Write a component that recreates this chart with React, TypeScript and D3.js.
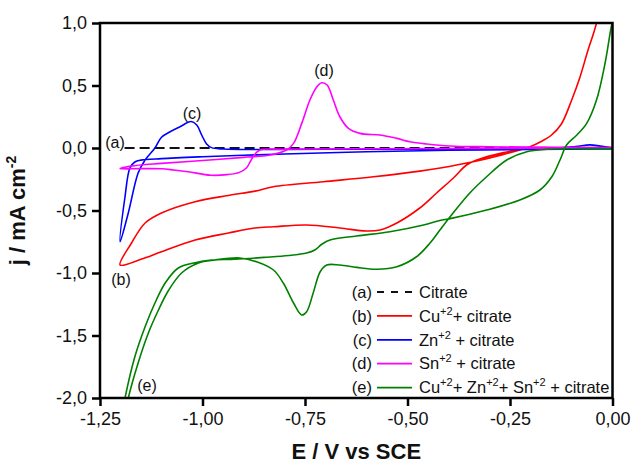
import React, { useRef, useEffect } from "react";
import * as d3 from "d3";

// cyclic voltammograms, [E (V vs SCE), j (mA cm-2)] in scan order
const citrate: [number, number][] = [
  [-1.19, 0], [0, 0],
];

const cuCitrate: [number, number][] = [
  [0, 0.003], [-0.1, 0.0], [-0.2, 0.0], [-0.266, -0.037], [-0.331, -0.096],
  [-0.356, -0.136], [-0.388, -0.24], [-0.429, -0.36], [-0.47, -0.48],
  [-0.526, -0.6], [-0.567, -0.656], [-0.6, -0.664], [-0.665, -0.64],
  [-0.746, -0.616], [-0.827, -0.63], [-0.872, -0.64], [-0.937, -0.68],
  [-1.018, -0.736], [-1.1, -0.83], [-1.15, -0.89], [-1.201, -0.936],
  [-1.173, -0.76], [-1.14, -0.6], [-1.1, -0.52], [-1.018, -0.43],
  [-0.937, -0.38], [-0.872, -0.345], [-0.827, -0.31], [-0.705, -0.27],
  [-0.583, -0.23], [-0.47, -0.185], [-0.42, -0.16], [-0.34, -0.11],
  [-0.27, -0.055], [-0.226, -0.016], [-0.2, 0.012], [-0.175, 0.05],
  [-0.15, 0.1], [-0.125, 0.19], [-0.1, 0.38], [-0.08, 0.56],
  [-0.06, 0.78], [-0.045, 0.93], [-0.034, 1.06],
];

const znCitrate: [number, number][] = [
  [0, -0.008], [-0.2, -0.012], [-0.4, -0.018], [-0.6, -0.03], [-0.8, -0.048],
  [-0.9, -0.058], [-1.0, -0.07], [-1.1, -0.085], [-1.15, -0.097],
  [-1.165, -0.112], [-1.177, -0.16], [-1.189, -0.39], [-1.201, -0.75],
  [-1.181, -0.52], [-1.157, -0.2], [-1.14, -0.096], [-1.116, 0.0],
  [-1.1, 0.086], [-1.079, 0.13], [-1.055, 0.17], [-1.028, 0.212],
  [-1.014, 0.184], [-1.002, 0.104], [-0.99, 0.032], [-0.978, 0.003],
  [-0.95, -0.008], [-0.7, -0.01], [-0.4, -0.008], [-0.15, -0.003],
  [-0.09, 0.012], [-0.055, 0.025], [-0.03, 0.015], [0, 0.0],
];

const snCitrate: [number, number][] = [
  [0, 0.003], [-0.3, -0.003], [-0.6, -0.006], [-0.8, -0.01], [-0.86, -0.016],
  [-0.872, -0.05], [-0.882, -0.1], [-0.893, -0.16], [-0.91, -0.195],
  [-0.94, -0.213], [-0.98, -0.218], [-1.035, -0.19], [-1.07, -0.176],
  [-1.1, -0.166], [-1.15, -0.165], [-1.201, -0.165],
  [-1.175, -0.145], [-1.1, -0.123], [-1.0, -0.1], [-0.9, -0.075],
  [-0.835, -0.056], [-0.795, -0.016], [-0.778, 0.037], [-0.758, 0.197],
  [-0.738, 0.384], [-0.721, 0.49], [-0.709, 0.522], [-0.696, 0.504],
  [-0.681, 0.384], [-0.665, 0.25], [-0.644, 0.157], [-0.616, 0.117],
  [-0.567, 0.104], [-0.526, 0.077], [-0.494, 0.05], [-0.453, 0.032],
  [-0.396, 0.016], [-0.3, 0.01], [-0.15, 0.006], [0, 0.003],
];

const mixCitrate: [number, number][] = [
  [0, -0.005], [-0.1, -0.006], [-0.16, -0.01], [-0.209, -0.03],
  [-0.258, -0.096], [-0.307, -0.23], [-0.348, -0.36], [-0.396, -0.55],
  [-0.421, -0.656], [-0.445, -0.76], [-0.478, -0.87], [-0.526, -0.95],
  [-0.575, -0.97], [-0.624, -0.955], [-0.665, -0.936], [-0.697, -0.936],
  [-0.713, -0.99], [-0.73, -1.16], [-0.746, -1.31], [-0.758, -1.336],
  [-0.778, -1.24], [-0.803, -1.08], [-0.827, -0.976], [-0.868, -0.91],
  [-0.909, -0.88], [-0.97, -0.896], [-1.01, -0.92], [-1.051, -1.0],
  [-1.083, -1.14], [-1.108, -1.3], [-1.132, -1.48], [-1.157, -1.72],
  [-1.181, -2.0], [-1.19, -2.15], [-1.197, -2.15],
  [-1.189, -2.0], [-1.165, -1.67], [-1.14, -1.43], [-1.116, -1.24],
  [-1.091, -1.08], [-1.059, -0.96], [-1.018, -0.918], [-0.978, -0.896],
  [-0.921, -0.89], [-0.85, -0.875], [-0.79, -0.86], [-0.746, -0.84],
  [-0.726, -0.816], [-0.709, -0.77], [-0.689, -0.736], [-0.624, -0.704],
  [-0.543, -0.67], [-0.461, -0.616], [-0.421, -0.58], [-0.396, -0.565],
  [-0.307, -0.496], [-0.226, -0.416], [-0.177, -0.336], [-0.148, -0.23],
  [-0.128, -0.096], [-0.112, 0.024], [-0.087, 0.104], [-0.063, 0.197],
  [-0.039, 0.384], [-0.018, 0.68], [-0.002, 0.984], [0, 1.0],
];

const seriesTags = ["(a)", "(b)", "(c)", "(d)", "(e)"];
const seriesColors = ["#111111", "#ff0000", "#0000ff", "#ff00ff", "#008000"];
const xTicks = [-1.25, -1.0, -0.75, -0.5, -0.25, 0];
const yTicks = [-2.0, -1.5, -1.0, -0.5, 0.0, 0.5, 1.0];

const FONT = "'Liberation Sans', Arial, sans-serif";
const width = 632;
const height = 465;
const plot = { left: 100, right: 612.5, top: 23, bottom: 398 };

const commaFmt = (digits: number) => (v: number) =>
  d3.format(`.${digits}f`)(v).replace("−", "-").replace(".", ",");

const Sup = ({ t }: { t: string }) => (
  <tspan dy={-7} fontSize={11}>{t}</tspan>
);

export default function App() {
  const xAxisRef = useRef<SVGGElement>(null);
  const yAxisRef = useRef<SVGGElement>(null);

  const x = d3.scaleLinear().domain([-1.25, 0]).range([plot.left, plot.right]);
  const y = d3.scaleLinear().domain([-2, 1]).range([plot.bottom, plot.top]);

  const line = d3
    .line<[number, number]>()
    .x((d) => x(d[0]))
    .y((d) => y(d[1]))
    .curve(d3.curveCatmullRom.alpha(0.5));

  useEffect(() => {
    const gx = d3.select(xAxisRef.current!);
    gx.call(
      d3.axisBottom(x).tickValues(xTicks).tickFormat(commaFmt(2) as any)
        .tickSize(8).tickPadding(6).tickSizeOuter(0)
    );
    gx.attr("font-size", 18).attr("font-family", FONT);
    gx.select(".domain").remove();
    gx.selectAll(".tick line").attr("stroke", "#000").attr("stroke-width", 2.5);
    gx.selectAll(".tick text").attr("fill", "#111");

    const gy = d3.select(yAxisRef.current!);
    gy.call(
      d3.axisLeft(y).tickValues(yTicks).tickFormat(commaFmt(1) as any)
        .tickSize(8).tickPadding(5).tickSizeOuter(0)
    );
    gy.attr("font-size", 18).attr("font-family", FONT);
    gy.select(".domain").remove();
    gy.selectAll(".tick line").attr("stroke", "#000").attr("stroke-width", 2.5);
    gy.selectAll(".tick text").attr("fill", "#111");
  }, []);

  const curves = [citrate, cuCitrate, znCitrate, snCitrate, mixCitrate];

  const legendTop = 292;
  const legendStep = 23.9;
  const legendLabels = [
    <>Citrate</>,
    <>Cu<Sup t="+2" /><tspan dy={7}>+ citrate</tspan></>,
    <>Zn<Sup t="+2" /><tspan dy={7}> + citrate</tspan></>,
    <>Sn<Sup t="+2" /><tspan dy={7}> + citrate</tspan></>,
    <>Cu<Sup t="+2" /><tspan dy={7}>+ Zn</tspan><Sup t="+2" /><tspan dy={7}>+ Sn</tspan><Sup t="+2" /><tspan dy={7}> + citrate</tspan></>,
  ];

  const tags: [string, number, number][] = [
    ["(a)", 115, 142],
    ["(b)", 121, 279],
    ["(c)", 192, 113],
    ["(d)", 324, 70],
    ["(e)", 147, 385],
  ];

  return (
    <svg
      width={width}
      height={height}
      style={{ position: "absolute", left: 0, top: 0, background: "#fff" }}
      fontFamily={FONT}
    >
      <defs>
        <clipPath id="plotClip">
          <rect x={plot.left} y={plot.top} width={plot.right - plot.left} height={plot.bottom - plot.top} />
        </clipPath>
      </defs>

      <g clipPath="url(#plotClip)">
        {curves.map((c, i) => (
          <path
            key={i}
            d={line(c) || ""}
            fill="none"
            stroke={seriesColors[i]}
            strokeWidth={i === 0 ? 1.8 : 1.6}
            strokeDasharray={i === 0 ? "10,5" : undefined}
          />
        ))}
      </g>

      {tags.map(([t, tx, ty]) => (
        <text key={t} x={tx} y={ty} dy="0.35em" textAnchor="middle" fontSize={16} fill="#111">
          {t}
        </text>
      ))}

      {/* legend */}
      {seriesTags.map((t, i) => {
        const ly = legendTop + i * legendStep;
        return (
          <g key={t}>
            <text x={372} y={ly} dy="0.35em" textAnchor="end" fontSize={16.5} fill="#111">{t}</text>
            <line
              x1={377} x2={412} y1={ly} y2={ly}
              stroke={seriesColors[i]}
              strokeWidth={1.8}
              strokeDasharray={i === 0 ? "7,7" : undefined}
            />
            <text x={419} y={ly} dy="0.35em" fontSize={16.5} fill="#111">{legendLabels[i]}</text>
          </g>
        );
      })}

      <rect
        x={plot.left} y={plot.top}
        width={plot.right - plot.left} height={plot.bottom - plot.top}
        fill="none" stroke="#000" strokeWidth={2.5}
      />
      <g ref={xAxisRef} transform={`translate(0,${plot.bottom})`} />
      <g ref={yAxisRef} transform={`translate(${plot.left},0)`} />

      <text x={(plot.left + plot.right) / 2} y={459} textAnchor="middle" fontSize={22} fontWeight="bold" fill="#111">
        E / V vs SCE
      </text>
      <text
        transform={`translate(25,${(plot.top + plot.bottom) / 2}) rotate(-90)`}
        textAnchor="middle" fontSize={22} fontWeight="bold" fill="#111"
      >
        j / mA cm<tspan dy={-9} fontSize={14}>-2</tspan>
      </text>
    </svg>
  );
}
